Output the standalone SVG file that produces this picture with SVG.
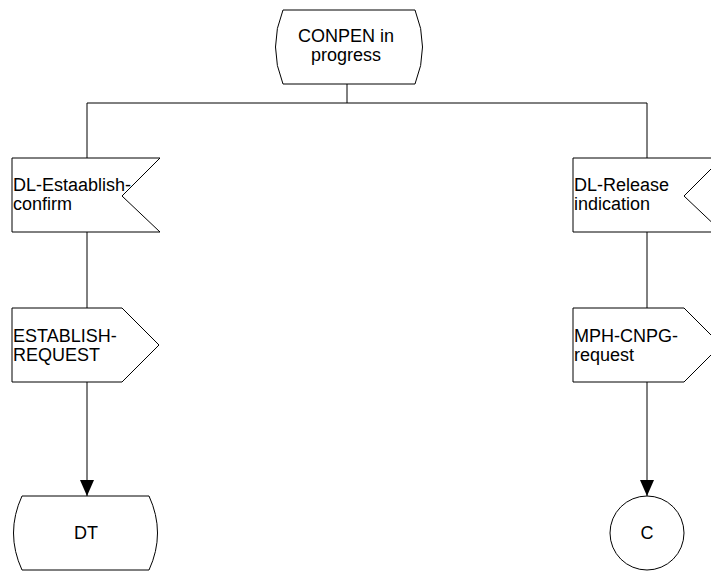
<svg xmlns="http://www.w3.org/2000/svg" width="711" height="571" viewBox="0 0 711 571">
<defs>
<style>
.s{fill:#fff;stroke:#000;stroke-width:1}
.l{fill:none;stroke:#000;stroke-width:1}
text{font-family:"Liberation Sans",Arial,sans-serif;font-size:18px;fill:#000}
.c{text-anchor:middle}
</style>
<marker id="ah" markerWidth="16" markerHeight="14" refX="16" refY="7" orient="auto" markerUnits="userSpaceOnUse" viewBox="0 0 16 14">
<path d="M0,0 L16,7 L0,14 Z" fill="#000"/>
</marker>
</defs>
<rect width="711" height="571" fill="#fff"/>
<g id="connectors">
<path class="l" d="M347,84 V103 M87,103 H647 M87,103 V158 M647,103 V158"/>
<path class="l" d="M87,232 V308 M647,232 V308"/>
<path class="l" d="M87,382 V496" marker-end="url(#ah)"/>
<path class="l" d="M647,382 V496" marker-end="url(#ah)"/>
</g>
<g id="state-conpen">
<path class="s" d="M283,10 H415 Q430,47 415,84 H283 Q268,47 283,10 Z"/>
<text class="c" x="346" y="42">CONPEN in</text>
<text class="c" x="346" y="61">progress</text>
</g>
<g id="input-dl-establish">
<path class="s" d="M12,158 H160 L122,196 L160,232 H12 Z"/>
<text x="13" y="191">DL-Estaablish-</text>
<text x="13" y="210">confirm</text>
</g>
<g id="input-dl-release">
<path class="s" d="M573,158 H722 L684,196 L722,232 H573 Z"/>
<text x="574" y="191">DL-Release</text>
<text x="574" y="210">indication</text>
</g>
<g id="output-establish-request">
<path class="s" d="M12,308 H122 L159,345 L122,382 H12 Z"/>
<text x="13" y="342">ESTABLISH-</text>
<text x="13" y="361">REQUEST</text>
</g>
<g id="output-mph-cnpg">
<path class="s" d="M573,308 H684 L721,345 L684,382 H573 Z"/>
<text x="574" y="342">MPH-CNPG-</text>
<text x="574" y="361">request</text>
</g>
<g id="state-dt">
<path class="s" d="M22,496 H149 Q166,533 149,570 H22 Q5,533 22,496 Z"/>
<text class="c" x="86" y="539">DT</text>
</g>
<g id="connector-c">
<circle class="s" cx="647" cy="533" r="37"/>
<text class="c" x="647" y="539">C</text>
</g>
</svg>
